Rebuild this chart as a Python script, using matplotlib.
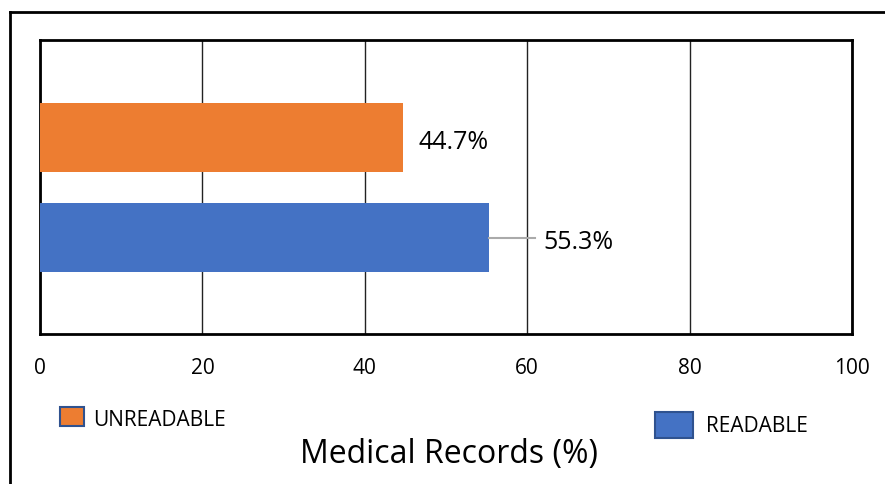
import matplotlib.pyplot as plt
from matplotlib.lines import Line2D

# data
categories = ['READABLE', 'UNREADABLE']
values = [55.3, 44.7]
colors = ['#4472C4', '#ED7D31']
xticks = [0, 20, 40, 60, 80, 100]

plt.rcParams['font.family'] = ['Open Sans', 'DejaVu Sans']

W, H = 885, 484
fig = plt.figure(figsize=(W / 100, H / 100), dpi=100)
ax = fig.add_axes([40 / W, 1 - 334 / H, 812 / W, 294 / H])

ax.barh([0, 1], values, height=0.69, color=colors, zorder=3)
ax.set_xlim(0, 100)
ax.set_ylim(-0.965, 1.975)
ax.set_xticks(xticks)
ax.set_yticks([])
ax.tick_params(axis='x', length=0, labelsize=15, pad=17)
ax.grid(axis='x', color='#222222', linewidth=1.0, zorder=1)
for s in ax.spines.values():
    s.set_linewidth(2)
    s.set_color('black')

# data labels
ax.text(values[1] + 1.9, 1 - 0.05, f'{values[1]}%', va='center', ha='left', fontsize=18)
ax.plot([values[0], values[0] + 5.7], [0, 0], color='#AAAAAA', linewidth=1.5, zorder=4)
ax.text(values[0] + 6.7, -0.05, f'{values[0]}%', va='center', ha='left', fontsize=18)

# legend entries
edge = '#2F528F'
fig.patches.append(plt.Rectangle((60 / W, 1 - 426 / H), 24 / W, 19 / H,
                                 transform=fig.transFigure, facecolor=colors[1],
                                 edgecolor=edge, linewidth=1.5))
fig.text(93 / W, 1 - 420 / H, categories[1], va='center', ha='left', fontsize=15)
fig.patches.append(plt.Rectangle((655 / W, 1 - 438 / H), 38 / W, 26 / H,
                                 transform=fig.transFigure, facecolor=colors[0],
                                 edgecolor=edge, linewidth=1.5))
fig.text(706 / W, 1 - 427 / H, categories[0], va='center', ha='left', fontsize=15)

fig.text(449 / W, 1 - 454 / H, 'Medical Records (%)', va='center', ha='center', fontsize=23)

# outer frame
fig.add_artist(Line2D([10 / W, 10 / W], [0, 1 - 12 / H], color='black', linewidth=2,
                      transform=fig.transFigure))
fig.add_artist(Line2D([10 / W, 1], [1 - 12 / H, 1 - 12 / H], color='black', linewidth=2,
                      transform=fig.transFigure))

fig.savefig('out.png', dpi=100)
